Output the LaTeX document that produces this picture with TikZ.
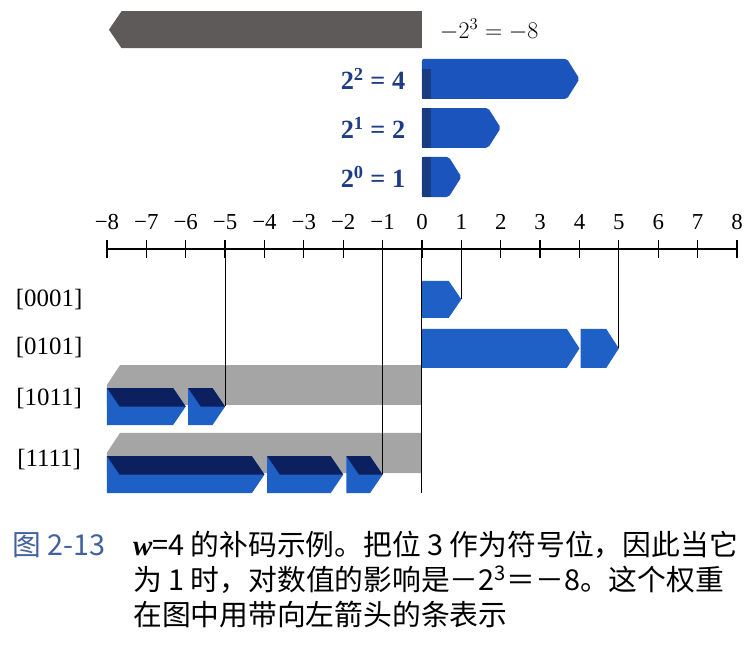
\documentclass[tikz,border=0pt]{standalone}
\usepackage{fontspec}
\setmainfont{Liberation Serif}
\newfontfamily\cjk{Noto Sans CJK SC}
\usepackage{xcolor}
\usetikzlibrary{positioning}

\definecolor{barblue}{HTML}{1F60C6}
\definecolor{flatblue}{HTML}{1C54BE}
\definecolor{barnavy}{HTML}{0C1F5E}
\definecolor{stripblue}{HTML}{183C82}
\definecolor{labelblue}{HTML}{1D3C85}
\definecolor{capblue}{HTML}{41619F}
\definecolor{darkgrain}{HTML}{5E5A5A}
\definecolor{lightgrain}{HTML}{A5A5A5}

\newcommand{\tiplen}{0.32}
% bar from #1 to #2 (tip at #2), between heights #3 and #4
\newcommand{\flatbar}[5]{%
  \fill[#5] (#1,#3) -- ({#2-\tiplen},#3) -- (#2,{(#3+#4)/2})
    -- ({#2-\tiplen},#4) -- (#1,#4) -- cycle;}
% same bar, with its dark top face
\newcommand{\deepbar}[4]{%
  \flatbar{#1}{#2}{#3}{#4}{barblue}
  \fill[barnavy] (#1,#3) -- ({#2-\tiplen},#3) -- (#2,{(#3+#4)/2})
    -- ({#1+\tiplen},{(#3+#4)/2}) -- cycle;}

\begin{document}
\begin{tikzpicture}[
  x=1cm,
  y=1cm,
  axisline/.style={line width=0.9pt},
  guide/.style={line width=0.7pt},
  ticklabel/.style={font=\fontsize{16.5}{19}\selectfont, inner sep=0pt},
  rowlabel/.style={font=\fontsize{18}{21}\selectfont, inner sep=0pt},
  weight/.style={font=\fontsize{19}{22}\selectfont\bfseries, text=labelblue,
    anchor=east, inner sep=0pt},
  caption/.style={font=\fontsize{20.8}{25}\selectfont\cjk, anchor=west, inner sep=0pt}
]
  \useasboundingbox (-10.717,-10.083) rectangle (8.432,6.324);

  % bit weights
  \fill[darkgrain] (0,6.04) -- (-7.63,6.04) -- (-7.95,5.57) -- (-7.63,5.10)
    -- (0,5.10) -- cycle;
  \node[anchor=west, inner sep=0pt, font=\fontsize{16.5}{19}\selectfont] (neg8)
    at (0.45,5.57) {$-2^3=-8$};

  \flatbar{0}{4}{4.83}{3.81}{flatblue, rounded corners=1.5pt}
  \flatbar{0}{2}{3.58}{2.57}{flatblue, rounded corners=1.5pt}
  \flatbar{0}{1}{2.34}{1.32}{flatblue, rounded corners=1.5pt}
  \fill[stripblue] (0,4.57) rectangle (0.24,3.81);
  \fill[stripblue] (0,3.58) rectangle (0.24,2.57);
  \fill[stripblue] (0,2.34) rectangle (0.24,1.32);
  \node[weight] (pos4) at (-0.42,4.32) {2\textsuperscript{2} = 4};
  \node[weight] (pos2) at (-0.42,3.07) {2\textsuperscript{1} = 2};
  \node[weight] (pos1) at (-0.42,1.83) {2\textsuperscript{0} = 1};

  % number line
  \draw[axisline] (-8,0) -- (8,0);
  \foreach \x [count=\i] in {-8,...,8} {
    \draw[axisline] (\x,0.23) -- (\x,-0.23);
    \coordinate (ax\i) at (\x,0);
    \node[ticklabel] (num\i) at (\x,0.69)
      {\ifnum\x<0 −\number\numexpr-\x\relax\else\x\fi};
  }

  % rows
  \node[rowlabel] (r0001) at (-9.47,-1.28) {[0001]};
  \node[rowlabel] (r0101) at (-9.47,-2.49) {[0101]};
  \node[rowlabel] (r1011) at (-9.47,-3.80) {[1011]};
  \node[rowlabel] (r1111) at (-9.47,-5.34) {[1111]};

  \flatbar{0}{1}{-0.81}{-1.75}{barblue}
  \coordinate (endA) at (1,-1.28);

  \flatbar{0}{4}{-2.03}{-3.02}{barblue}
  \flatbar{4.03}{5}{-2.03}{-3.02}{barblue}
  \coordinate (endB) at (5,-2.52);

  \fill[lightgrain] (-7.67,-2.95) -- (0,-2.95) -- (0,-3.96) -- (-8,-3.96)
    -- (-8,-3.45) -- cycle;
  \deepbar{-8}{-6}{-3.53}{-4.47}
  \deepbar{-5.94}{-5}{-3.53}{-4.47}
  \coordinate (endC) at (-5,-3.99);

  \fill[lightgrain] (-7.67,-4.67) -- (0,-4.67) -- (0,-5.69) -- (-8,-5.69)
    -- (-8,-5.17) -- cycle;
  \deepbar{-8}{-4}{-5.26}{-6.20}
  \deepbar{-3.93}{-2}{-5.26}{-6.20}
  \deepbar{-1.92}{-1}{-5.26}{-6.20}
  \coordinate (endD) at (-1,-5.72);
  \coordinate (endO) at (0,-6.20);

  % guides from the number line
  \draw[guide] (ax10) -- (endA);
  \draw[guide] (ax14) -- (endB);
  \draw[guide] (ax4) -- (endC);
  \draw[guide] (ax8) -- (endD);
  \draw[guide] (ax9) -- (endO);

  % caption
  \node[caption, text=capblue] (fignum) at (-10.41,-7.52) {图 2-13};
  \node[caption] (cap1) at (-7.34,-7.52)
    {{\rmfamily\bfseries\itshape w}=4 的补码示例。把位 3 作为符号位，因此当它};
  \node[caption] (cap2) at (-7.34,-8.40)
    {为 1 时，对数值的影响是－2\textsuperscript{3}＝－8。这个权重};
  \node[caption] (cap3) at (-7.34,-9.27) {在图中用带向左箭头的条表示};
\end{tikzpicture}
\end{document}
